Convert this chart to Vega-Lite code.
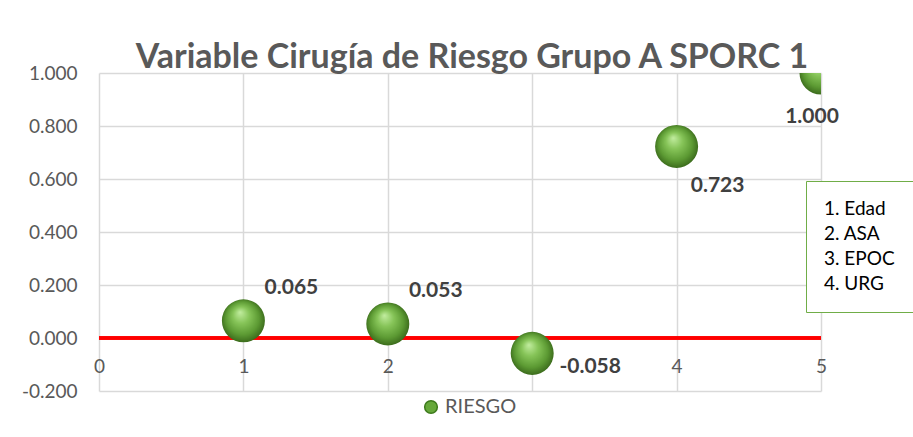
{
  "$schema": "https://vega.github.io/schema/vega-lite/v6.json",
  "width": 722,
  "height": 318,
  "autosize": {"type": "none"},
  "padding": {"left": 99, "top": 73, "right": 92, "bottom": 46},
  "background": "white",
  "title": {
    "text": "Variable Cirugía de Riesgo Grupo A SPORC 1",
    "font": "Lato",
    "fontSize": 34,
    "fontWeight": "bold",
    "color": "#595959",
    "anchor": "middle",
    "baseline": "alphabetic",
    "dx": 12,
    "dy": 43,
    "offset": 5
  },
  "config": {
    "locale": {
      "number": {"decimal": ".", "thousands": ",", "grouping": [3], "currency": ["$", ""], "minus": "-"}
    },
    "view": {"stroke": null},
    "font": "Lato",
    "axis": {
      "grid": true,
      "gridColor": "#d9d9d9",
      "gridWidth": 1.5,
      "domain": false,
      "ticks": false,
      "title": null,
      "labelFont": "Lato",
      "labelFontSize": 19,
      "labelColor": "#595959"
    }
  },
  "data": {
    "values": [
      {"variable": 1, "r": 0.065, "serie": "RIESGO"},
      {"variable": 2, "r": 0.053, "serie": "RIESGO"},
      {"variable": 3, "r": -0.058, "serie": "RIESGO"},
      {"variable": 4, "r": 0.723, "serie": "RIESGO"},
      {"variable": 5, "r": 1.0, "serie": "RIESGO"}
    ]
  },
  "encoding": {
    "x": {
      "field": "variable",
      "type": "quantitative",
      "scale": {"domain": [0, 5], "nice": false, "zero": false},
      "axis": {"values": [0, 1, 2, 3, 4, 5], "labelPadding": -34, "format": "d", "labelFlush": false}
    },
    "y": {
      "field": "r",
      "type": "quantitative",
      "scale": {"domain": [-0.2, 1.0], "nice": false, "zero": false},
      "axis": {"values": [-0.2, 0, 0.2, 0.4, 0.6, 0.8, 1.0], "format": ".3f", "labelPadding": 22}
    }
  },
  "layer": [
    {
      "mark": {"type": "rule", "color": "#ff0000", "strokeWidth": 3},
      "encoding": {"y": {"datum": 0}, "x": {"datum": 0}, "x2": {"datum": 5}}
    },
    {
      "mark": {"type": "point", "opacity": 0, "filled": true},
      "encoding": {
        "color": {
          "field": "serie",
          "type": "nominal",
          "scale": {"range": ["#66a83a"]},
          "legend": {
            "title": null,
            "orient": "none",
            "legendX": 322,
            "legendY": 324,
            "symbolType": "circle",
            "symbolSize": 160,
            "symbolOpacity": 1,
            "symbolFillColor": "#66a83a",
            "symbolStrokeColor": "#3d7a1c",
            "labelFontSize": 20,
            "labelColor": "#595959",
            "labelFont": "Lato",
            "labelOpacity": 1
          }
        }
      }
    },
    {
      "mark": {
        "type": "point",
        "filled": true,
        "size": 1850,
        "opacity": 1,
        "clip": true,
        "color": {
          "gradient": "radial",
          "x1": 0.42, "y1": 0.3, "r1": 0,
          "x2": 0.5, "y2": 0.5, "r2": 0.55,
          "stops": [
            {"offset": 0, "color": "#c2eda0"},
            {"offset": 0.35, "color": "#86c458"},
            {"offset": 0.7, "color": "#5c9a33"},
            {"offset": 1, "color": "#335f16"}
          ]
        }
      }
    },
    {
      "transform": [{"filter": "datum.variable <= 2"}],
      "mark": {"type": "text", "fontWeight": "bold", "fontSize": 21, "color": "#404040", "dx": 48, "dy": -33},
      "encoding": {"text": {"field": "r", "type": "quantitative", "format": ".3f"}}
    },
    {
      "transform": [{"filter": "datum.variable == 3"}],
      "mark": {"type": "text", "fontWeight": "bold", "fontSize": 21, "color": "#404040", "dx": 58, "dy": 14},
      "encoding": {"text": {"field": "r", "type": "quantitative", "format": ".3f"}}
    },
    {
      "transform": [{"filter": "datum.variable == 4"}],
      "mark": {"type": "text", "fontWeight": "bold", "fontSize": 21, "color": "#404040", "dx": 41, "dy": 40},
      "encoding": {"text": {"field": "r", "type": "quantitative", "format": ".3f"}}
    },
    {
      "transform": [{"filter": "datum.variable == 5"}],
      "mark": {"type": "text", "fontWeight": "bold", "fontSize": 21, "color": "#404040", "dx": -9, "dy": 44},
      "encoding": {"text": {"field": "r", "type": "quantitative", "format": ".3f"}}
    },
    {
      "data": {"values": [
        {"nota": "1. Edad"},
        {"nota": "2. ASA"},
        {"nota": "3. EPOC"},
        {"nota": "4. URG"}
      ]},
      "mark": {"type": "point", "opacity": 0, "filled": true},
      "encoding": {
        "x": {"datum": 0},
        "y": {"datum": 0},
        "shape": {
          "field": "nota",
          "type": "nominal",
          "scale": {"domain": ["1. Edad", "2. ASA", "3. EPOC", "4. URG"], "range": ["circle", "circle", "circle", "circle"]},
          "legend": {
            "title": null,
            "orient": "none",
            "legendX": 707,
            "legendY": 108,
            "values": ["1. Edad", "2. ASA", "3. EPOC", "4. URG"],
            "symbolSize": 1,
            "symbolOpacity": 0,
            "symbolStrokeWidth": 0,
            "labelOffset": -19,
            "labelOpacity": 1,
            "labelFontSize": 19,
            "labelColor": "#000000",
            "labelFont": "Lato",
            "strokeColor": "#70ad47",
            "fillColor": "white",
            "padding": 18,
            "rowPadding": 5
          }
        }
      }
    }
  ]
}
